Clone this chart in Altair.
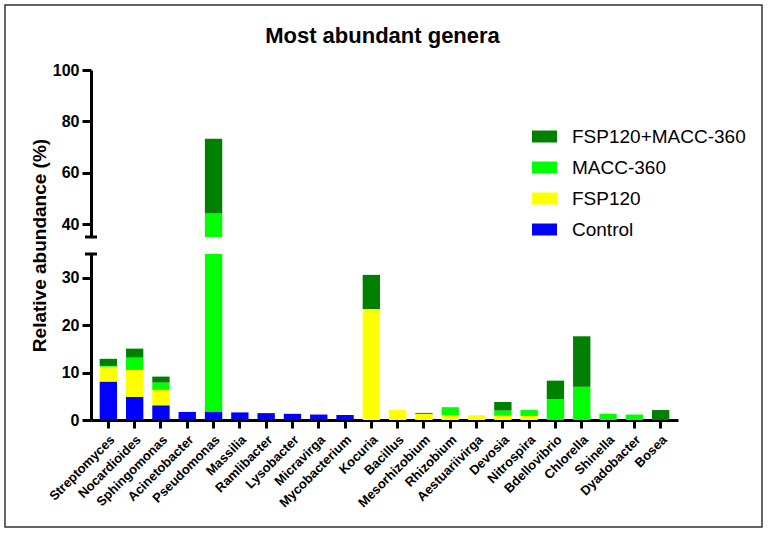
import altair as alt
import pandas as pd

# Relative abundance (%) of the most abundant genera per treatment
genera = ["Streptomyces", "Nocardioides", "Sphingomonas", "Acinetobacter", "Pseudomonas",
          "Massilia", "Ramlibacter", "Lysobacter", "Micravirga", "Mycobacterium",
          "Kocuria", "Bacillus", "Mesorhizobium", "Rhizobium", "Aestuariivirga",
          "Devosia", "Nitrospira", "Bdellovibrio", "Chlorella", "Shinella",
          "Dyadobacter", "Bosea"]
control = [8.1, 4.85, 3.1, 1.7, 1.7, 1.6, 1.45, 1.3, 1.15, 1.05,
           0, 0, 0, 0, 0, 0, 0, 0, 0, 0, 0, 0]
fsp120 = [3.15, 5.7, 3.25, 0, 0, 0, 0, 0, 0, 0,
          23.4, 2.1, 1.3, 1.0, 1.0, 0.9, 0.85, 0, 0, 0, 0, 0]
macc360 = [0.15, 2.6, 1.55, 0, 42.4, 0, 0, 0, 0, 0,
           0, 0, 0, 1.7, 0, 1.1, 1.25, 4.4, 7.0, 1.3, 1.15, 0]
fsp_macc = [1.5, 1.9, 1.25, 0, 29.1, 0, 0, 0, 0, 0,
            7.2, 0, 0.2, 0, 0, 1.8, 0, 3.9, 10.65, 0, 0, 2.1]

series = [("Control", control), ("FSP120", fsp120),
          ("MACC-360", macc360), ("FSP120+MACC-360", fsp_macc)]
legend_order = ["FSP120+MACC-360", "MACC-360", "FSP120", "Control"]
palette = ["#008000", "#00ff00", "#ffff00", "#0000ff"]

rows = []
for layer, (name, values) in enumerate(series):
    for genus, v in zip(genera, values):
        if v > 0:
            rows.append({"genus": genus, "group": name, "abundance": v, "layer": layer})
df = pd.DataFrame(rows)

FONT = "Liberation Sans"
W = 587

x_scale = alt.Scale(domain=genera, paddingInner=0.34, paddingOuter=0.33)
legend = alt.Legend(title=None, symbolType="M-1,-0.48H1V0.48H-1Z", symbolSize=625,
                    symbolStrokeWidth=0, labelFontSize=19, labelFont=FONT,
                    labelColor="black", labelOffset=15, labelLimit=0,
                    rowPadding=8, padding=0)
color = alt.Color("group:N", scale=alt.Scale(domain=legend_order, range=palette), legend=legend)

axis_common = dict(domainColor="black", domainWidth=3, tickColor="black", tickWidth=3,
                   grid=False, labelColor="black", labelFont=FONT)


def bars(domain, y_axis, x_axis):
    return alt.Chart(df).mark_bar(clip=True).encode(
        x=alt.X("genus:N", sort=genera, scale=x_scale, axis=x_axis),
        y=alt.Y("abundance:Q", stack="zero",
                scale=alt.Scale(domain=domain, nice=False, zero=False), axis=y_axis),
        color=color,
        order=alt.Order("layer:Q"),
    )


def break_cap():
    # short horizontal stroke marking the axis break at 35 %
    return alt.Chart(alt.Data(values=[{}])).mark_rule(color="black", strokeWidth=3).encode(
        y=alt.datum(35), x=alt.value(-6), x2=alt.value(6)
    )


upper_y = alt.Axis(values=[40, 60, 80, 100], title=None, labelFontSize=16,
                   labelFontWeight="bold", labelPadding=3, tickSize=9,
                   labelFlush=False, **axis_common)
lower_y = alt.Axis(values=[0, 10, 20, 30], title="Relative abundance (%)",
                   titleFontSize=19, titleFontWeight="bold", titleColor="black",
                   titleFont=FONT, titleX=-46, titleY=-9, titleAlign="center",
                   titleBaseline="alphabetic", labelFontSize=16, labelFontWeight="bold",
                   labelPadding=3, tickSize=9, labelFlush=False, **axis_common)
lower_x = alt.Axis(title=None, labelAngle=-45, labelFontSize=13, labelFontWeight="bold",
                   labelPadding=5, tickSize=8, labelOverlap=False, **axis_common)

upper = alt.layer(bars([35, 100], upper_y, None), break_cap()).properties(
    width=W, height=167,
    title=alt.TitleParams("Most abundant genera", fontSize=22, fontWeight="bold",
                          font=FONT, color="black", anchor="middle", dx=-2, offset=14),
)

frame = alt.Chart(alt.Data(values=[{}])).mark_rect(
    fill="transparent", stroke="#333333", strokeWidth=1.5
).encode(x=alt.value(-86), x2=alt.value(671), y=alt.value(-249), y2=alt.value(273))

lower = alt.layer(bars([0, 35], lower_y, lower_x), break_cap(), frame).properties(
    width=W, height=166
)

chart = alt.vconcat(upper, lower, spacing=17, bounds="flush").configure(
    font=FONT, padding={"left": 4, "top": 4, "right": 5, "bottom": 5}
).configure_view(stroke=None).configure_legend(
    orient="none", legendX=441, legendY=54
)

chart.save("out.html", embed_options={"renderer": "svg", "actions": False})
